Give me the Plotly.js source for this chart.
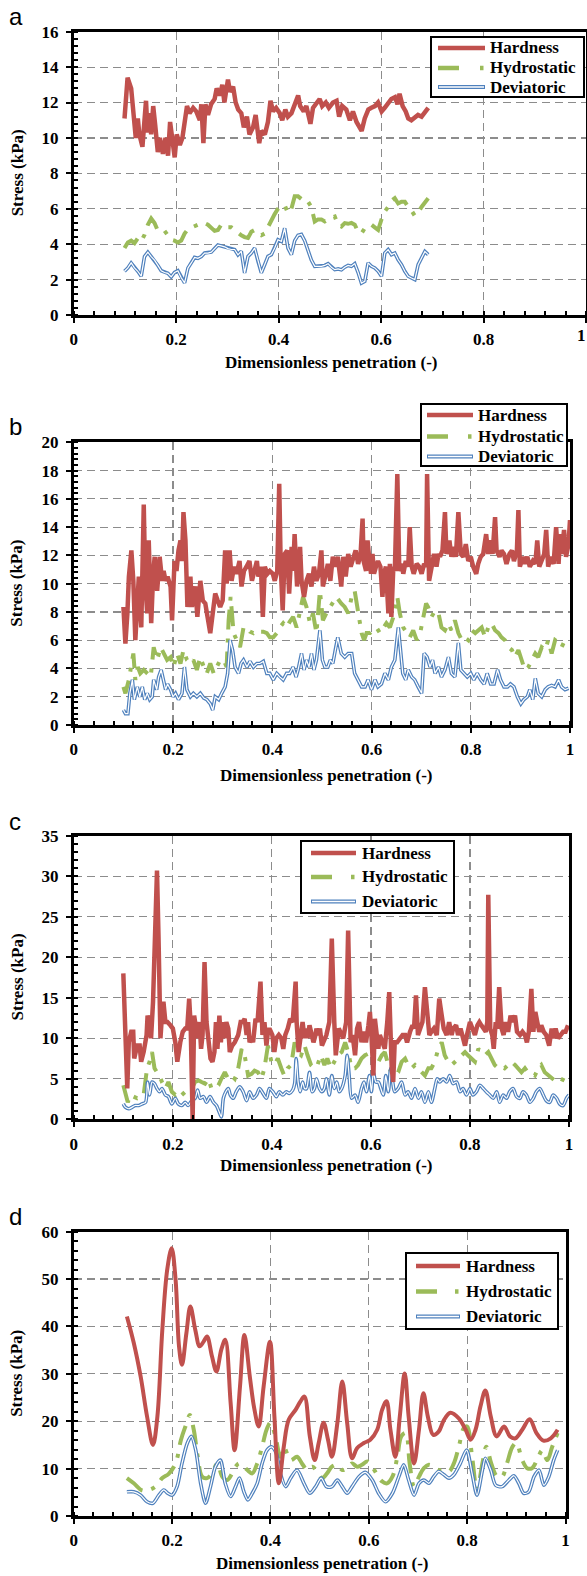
<!DOCTYPE html>
<html><head><meta charset="utf-8">
<script src="https://cdn.plot.ly/plotly-3.0.1.min.js"></script>
<style>html,body{margin:0;padding:0;background:#fff;}#chart{width:587px;height:1576px;}</style>
</head><body><div id="chart"></div>
<script>
// ---------------- DATA ----------------
const seriesNames = ['Hardness','Hydrostatic','Deviatoric'];
const panelLabels = ['a','b','c','d'];
const xTitle = 'Dimensionless penetration (-)';
const yTitle = 'Stress (kPa)';
const xTickVals = [0, 0.2, 0.4, 0.6, 0.8, 1];
const xTickText = ['0', '0.2', '0.4', '0.6', '0.8', '1'];

// Panel a
const xHardA = [0.099,0.105,0.112,0.115,0.121,0.125,0.128,0.134,0.138,0.141,0.144,0.148,0.151,0.155,0.159,0.164,0.168,0.174,0.179,0.184,0.188,0.192,0.197,0.201,0.207,0.212,0.216,0.221,0.226,0.233,0.239,0.246,0.249,0.253,0.257,0.262,0.268,0.275,0.279,0.285,0.290,0.294,0.301,0.305,0.311,0.316,0.321,0.327,0.332,0.338,0.343,0.350,0.355,0.362,0.366,0.373,0.379,0.384,0.389,0.395,0.402,0.407,0.413,0.418,0.425,0.431,0.438,0.442,0.449,0.454,0.462,0.467,0.474,0.480,0.485,0.492,0.498,0.506,0.513,0.518,0.524,0.532,0.539,0.545,0.552,0.557,0.562,0.568,0.575,0.581,0.588,0.594,0.601,0.607,0.614,0.620,0.627,0.632,0.636,0.642,0.648,0.653,0.659,0.666,0.672,0.679,0.685,0.692];
const hardA = [11.1,13.4,12.8,11.7,10.0,11.1,10.2,9.5,11.3,12.1,10.3,11.4,10.2,11.8,10.7,9.2,10.0,9.1,10.0,9.0,10.9,10.0,8.9,10.2,9.6,10.0,10.7,11.8,11.4,11.7,11.5,11.0,11.9,9.7,11.9,11.3,11.9,12.2,12.8,12.4,13.0,12.0,13.3,12.6,12.9,12.0,11.6,11.4,10.6,11.2,10.2,10.6,11.3,9.7,10.4,10.2,10.9,12.1,11.5,11.7,11.4,11.0,11.6,11.2,11.4,11.8,12.4,11.8,11.5,11.8,10.8,11.7,12.0,12.2,11.8,12.0,11.7,12.0,12.1,11.2,11.8,11.6,11.0,11.5,10.9,10.7,10.4,11.1,11.6,11.7,11.8,12.0,11.5,11.7,12.0,12.2,12.3,11.9,12.5,11.8,11.5,11.1,11.0,11.2,11.3,11.2,11.4,11.7];
const xA = [0.099,0.1055,0.112,0.1185,0.125,0.1316,0.1381,0.1446,0.1511,0.1576,0.1642,0.1707,0.1772,0.1837,0.1902,0.1967,0.2032,0.2098,0.2163,0.2228,0.2293,0.2358,0.2423,0.2489,0.2554,0.2619,0.2684,0.2749,0.2814,0.2879,0.2945,0.301,0.3075,0.314,0.3205,0.327,0.3335,0.3401,0.3466,0.3531,0.3596,0.3661,0.3726,0.3791,0.3857,0.3922,0.3987,0.4052,0.4117,0.4182,0.4248,0.4313,0.4378,0.4443,0.4508,0.4573,0.4638,0.4704,0.4769,0.4834,0.4899,0.4964,0.5029,0.5095,0.516,0.5225,0.529,0.5355,0.542,0.5485,0.5551,0.5616,0.5681,0.5746,0.5811,0.5876,0.5942,0.6007,0.6072,0.6137,0.6202,0.6267,0.6332,0.6398,0.6463,0.6528,0.6593,0.6658,0.6723,0.6789,0.6854,0.6919];
const hydroA = [3.78,4.1,4.2,4.06,4.34,4.16,4.53,5.1,5.45,5.2,4.75,4.75,4.75,4.5,4.25,4.2,4.1,4.2,4.6,4.85,4.95,5.05,5.1,5.1,5.19,5.1,4.95,4.75,4.8,5.1,5.1,4.95,4.95,4.8,4.6,4.5,4.4,4.35,4.7,4.8,4.6,4.5,4.6,5.0,5.3,5.7,6.0,6.2,6.2,5.75,6.0,6.7,6.7,6.55,6.6,6.4,6.1,5.28,5.4,5.4,5.28,5.4,5.5,5.56,5.1,5.0,5.19,5.15,5.2,5.1,4.7,4.6,4.9,4.95,5.1,4.95,4.8,5.4,5.85,6.1,6.45,6.6,6.3,6.4,6.4,6.1,5.9,5.6,5.8,6.1,6.31,6.59];
const devA = [2.47,2.66,2.94,2.66,2.47,2.19,3.3,3.55,3.3,3.1,2.8,2.5,2.4,2.35,2.15,2.4,2.5,2.1,1.81,2.65,2.94,3.25,3.2,3.3,3.5,3.5,3.55,3.75,3.95,3.9,3.85,3.75,3.7,3.7,3.4,3.6,2.38,3.31,3.5,3.78,3.03,2.38,2.84,3.31,3.41,3.78,4.25,4.16,4.9,3.78,3.41,4.2,4.5,4.55,4.2,3.65,3.1,2.75,2.75,2.75,2.8,2.9,2.7,2.56,2.6,2.55,2.7,2.8,2.75,2.9,2.4,1.8,1.9,2.94,2.75,2.66,2.47,2.19,3.5,3.69,3.41,3.5,3.12,2.84,2.47,2.19,2.09,2.0,2.84,3.22,3.59,3.41];

// Panel b
const xHardB = [0.100,0.104,0.108,0.111,0.116,0.120,0.124,0.128,0.131,0.136,0.141,0.144,0.148,0.151,0.156,0.160,0.163,0.168,0.173,0.178,0.181,0.185,0.189,0.195,0.198,0.203,0.207,0.211,0.215,0.218,0.221,0.225,0.229,0.235,0.238,0.245,0.249,0.255,0.260,0.265,0.270,0.275,0.280,0.285,0.290,0.295,0.300,0.305,0.308,0.314,0.318,0.323,0.328,0.334,0.338,0.343,0.348,0.354,0.359,0.363,0.369,0.372,0.377,0.381,0.385,0.390,0.395,0.401,0.405,0.410,0.414,0.417,0.421,0.425,0.430,0.434,0.439,0.442,0.445,0.450,0.456,0.459,0.464,0.469,0.474,0.479,0.484,0.489,0.494,0.499,0.502,0.508,0.512,0.517,0.522,0.528,0.532,0.539,0.543,0.548,0.553,0.558,0.563,0.568,0.573,0.578,0.582,0.584,0.589,0.592,0.595,0.599,0.602,0.605,0.609,0.613,0.618,0.622,0.625,0.629,0.634,0.637,0.640,0.644,0.647,0.652,0.656,0.661,0.664,0.669,0.674,0.677,0.681,0.685,0.691,0.696,0.701,0.706,0.710,0.712,0.716,0.721,0.726,0.731,0.735,0.738,0.743,0.748,0.751,0.757,0.761,0.765,0.770,0.775,0.780,0.785,0.790,0.795,0.800,0.805,0.811,0.815,0.820,0.825,0.831,0.835,0.840,0.844,0.849,0.852,0.858,0.862,0.867,0.872,0.878,0.883,0.887,0.893,0.896,0.899,0.905,0.909,0.914,0.919,0.925,0.930,0.934,0.938,0.943,0.948,0.952,0.956,0.961,0.967,0.972,0.977,0.980,0.983,0.988,0.992,0.997,1.000];
const hardB = [8.35,5.76,7.9,10.5,12.35,10.2,6.0,9.5,10.5,6.9,15.6,10.0,7.9,13.06,7.2,10.7,11.9,9.5,11.9,10.2,10.9,10.2,10.5,9.8,7.4,11.6,10.9,12.35,13.06,11.6,15.06,13.06,8.35,10.5,8.35,9.8,7.65,10.2,8.8,8.6,7.4,6.5,7.9,9.3,8.8,8.35,8.8,12.35,10.0,12.35,10.2,11.2,10.7,11.6,9.8,10.9,11.2,11.6,10.2,10.7,11.6,10.5,11.2,7.65,11.2,10.7,10.9,10.7,10.2,10.9,17.06,11.2,8.1,12.1,12.35,9.3,12.6,10.9,13.5,9.8,12.6,10.2,9.06,10.2,10.7,9.8,11.2,10.2,10.7,12.35,9.8,10.7,11.4,10.2,11.9,11.2,11.9,9.8,11.9,10.5,12.1,11.2,11.9,12.35,11.4,12.1,14.6,11.6,10.9,13.06,11.9,10.7,12.1,10.7,11.2,11.6,11.2,9.06,10.7,11.2,7.9,11.4,7.65,11.2,10.9,17.76,10.9,11.4,10.7,11.6,11.2,14.0,11.2,10.7,11.4,11.2,10.7,11.4,11.2,17.76,10.2,11.4,12.1,11.2,12.1,11.9,12.35,15.06,12.1,13.06,11.9,12.6,11.9,15.06,12.1,11.9,12.8,11.6,11.9,11.2,10.7,11.4,11.9,12.1,13.5,12.1,13.06,12.1,14.7,12.35,11.9,12.35,12.1,11.4,12.1,12.35,11.6,12.35,15.2,11.2,11.9,11.4,11.9,11.2,11.6,11.4,13.06,11.2,11.6,12.1,13.8,11.2,11.9,11.4,14.0,11.4,13.5,12.1,13.8,11.9,12.8,14.5];
const xHydroB = [0.100,0.104,0.111,0.116,0.120,0.124,0.129,0.134,0.141,0.148,0.155,0.161,0.168,0.175,0.181,0.188,0.195,0.201,0.208,0.215,0.221,0.228,0.235,0.241,0.248,0.255,0.262,0.268,0.275,0.282,0.288,0.295,0.302,0.308,0.312,0.316,0.322,0.328,0.335,0.342,0.349,0.355,0.362,0.369,0.375,0.382,0.389,0.395,0.402,0.409,0.415,0.422,0.429,0.435,0.442,0.449,0.456,0.462,0.469,0.476,0.482,0.489,0.496,0.502,0.509,0.516,0.522,0.529,0.539,0.546,0.553,0.560,0.566,0.573,0.580,0.585,0.590,0.597,0.603,0.610,0.617,0.624,0.630,0.637,0.644,0.652,0.657,0.664,0.671,0.677,0.684,0.691,0.698,0.704,0.710,0.714,0.721,0.728,0.735,0.741,0.748,0.755,0.761,0.768,0.775,0.782,0.788,0.795,0.802,0.809,0.815,0.822,0.829,0.835,0.842,0.849,0.856,0.862,0.869,0.876,0.883,0.889,0.896,0.903,0.909,0.916,0.923,0.930,0.936,0.943,0.950,0.956,0.963,0.970,0.977,0.983,0.990,0.997];
const hydroB = [2.7,2.24,3.2,4.1,5.06,3.2,4.1,3.65,3.9,3.65,3.4,5.5,4.6,5.5,5.06,4.6,4.8,4.1,5.06,4.35,5.3,4.6,4.35,4.6,3.9,4.8,4.1,3.65,4.35,3.65,4.1,4.6,4.6,4.1,7.4,9.06,6.5,6.0,5.5,6.9,6.9,6.6,6.5,6.7,6.6,6.6,6.5,6.2,6.2,6.5,6.9,7.2,6.9,7.3,7.65,6.9,8.1,9.06,8.35,7.2,7.9,6.5,9.5,7.4,7.9,8.35,8.6,9.06,8.6,8.35,7.9,9.06,9.5,7.8,6.5,6.0,6.5,6.5,6.7,6.9,6.5,6.9,7.2,6.9,7.65,9.06,7.9,6.9,6.5,6.2,6.7,6.0,6.5,7.65,8.6,8.35,7.65,8.1,7.9,6.9,6.7,7.2,6.7,7.4,6.5,6.0,6.2,6.0,6.7,6.5,6.7,6.9,6.2,6.9,7.2,6.7,6.5,6.2,6.0,5.5,5.3,4.8,5.3,4.6,3.9,4.1,4.6,5.06,4.8,5.5,5.3,6.0,5.06,6.0,5.8,5.5,6.0,5.8];
const xDevB = [0.100,0.104,0.109,0.113,0.118,0.122,0.128,0.133,0.138,0.143,0.148,0.153,0.158,0.161,0.167,0.171,0.176,0.180,0.185,0.189,0.195,0.200,0.205,0.211,0.218,0.223,0.228,0.235,0.241,0.248,0.255,0.262,0.268,0.275,0.280,0.285,0.292,0.298,0.305,0.310,0.315,0.320,0.325,0.332,0.337,0.342,0.349,0.355,0.362,0.369,0.375,0.382,0.389,0.395,0.402,0.409,0.415,0.422,0.429,0.435,0.442,0.448,0.452,0.459,0.464,0.469,0.474,0.479,0.484,0.489,0.496,0.501,0.506,0.512,0.517,0.522,0.528,0.532,0.539,0.546,0.553,0.560,0.566,0.573,0.580,0.587,0.593,0.600,0.607,0.613,0.620,0.627,0.634,0.640,0.647,0.654,0.657,0.663,0.669,0.674,0.681,0.687,0.694,0.701,0.706,0.712,0.718,0.723,0.728,0.735,0.741,0.748,0.755,0.761,0.768,0.775,0.780,0.786,0.793,0.800,0.806,0.813,0.820,0.827,0.833,0.840,0.847,0.854,0.860,0.867,0.874,0.880,0.887,0.894,0.901,0.907,0.914,0.919,0.925,0.930,0.936,0.943,0.950,0.956,0.963,0.970,0.977,0.983,0.990,0.997];
const devB = [1.06,0.8,0.8,2.24,3.2,1.8,2.7,2.0,2.7,1.8,2.24,1.8,2.0,3.2,2.5,3.4,3.9,3.2,2.5,2.9,2.5,2.0,2.24,1.8,2.24,4.1,2.5,2.0,2.24,2.0,2.24,1.9,1.8,1.5,1.06,2.0,1.8,2.24,2.7,3.65,6.0,5.3,4.1,3.65,4.35,4.6,4.1,4.5,4.1,4.35,4.35,4.5,3.65,3.65,3.2,3.65,3.4,3.2,3.65,3.65,4.1,3.4,3.9,5.06,3.9,4.6,4.1,5.06,3.9,4.6,6.7,4.6,4.1,4.1,4.6,4.35,5.5,6.2,5.06,4.8,5.06,5.06,3.65,3.2,2.7,2.7,3.2,2.5,3.2,2.7,2.9,3.65,3.2,4.1,4.6,6.9,5.8,3.65,3.2,3.9,3.4,3.2,2.7,2.24,5.06,4.8,4.1,4.6,3.65,4.1,3.4,3.9,4.8,3.65,3.4,5.8,3.9,3.65,3.4,3.65,3.2,3.65,3.2,2.9,3.65,2.9,2.9,3.9,3.2,2.7,2.7,2.9,2.7,2.0,1.5,1.8,2.0,2.5,1.8,3.3,2.24,2.0,2.5,2.7,2.8,2.7,3.2,2.7,2.5,2.6];

// Panel c
const xHardC = [0.100,0.104,0.108,0.111,0.116,0.120,0.122,0.128,0.133,0.136,0.141,0.147,0.149,0.153,0.156,0.160,0.165,0.168,0.171,0.175,0.178,0.181,0.185,0.189,0.195,0.200,0.205,0.209,0.215,0.220,0.225,0.229,0.233,0.236,0.240,0.243,0.247,0.250,0.254,0.257,0.260,0.264,0.268,0.272,0.276,0.280,0.284,0.287,0.290,0.294,0.297,0.300,0.304,0.308,0.312,0.315,0.320,0.325,0.332,0.337,0.341,0.345,0.349,0.352,0.355,0.359,0.362,0.367,0.371,0.377,0.381,0.385,0.389,0.392,0.395,0.401,0.405,0.409,0.414,0.419,0.423,0.427,0.432,0.437,0.442,0.448,0.450,0.454,0.459,0.462,0.466,0.469,0.472,0.476,0.479,0.484,0.488,0.490,0.494,0.497,0.501,0.506,0.510,0.516,0.521,0.526,0.529,0.535,0.544,0.550,0.554,0.559,0.563,0.568,0.572,0.576,0.581,0.586,0.590,0.595,0.598,0.601,0.605,0.608,0.611,0.615,0.618,0.624,0.628,0.633,0.637,0.642,0.645,0.648,0.653,0.659,0.664,0.669,0.673,0.679,0.684,0.687,0.691,0.695,0.699,0.704,0.709,0.714,0.718,0.722,0.727,0.733,0.738,0.743,0.747,0.753,0.758,0.763,0.766,0.772,0.776,0.781,0.785,0.790,0.794,0.800,0.805,0.810,0.815,0.819,0.823,0.828,0.832,0.835,0.837,0.841,0.845,0.848,0.852,0.855,0.859,0.864,0.868,0.872,0.877,0.882,0.886,0.891,0.895,0.901,0.906,0.911,0.915,0.919,0.924,0.928,0.932,0.936,0.940,0.944,0.949,0.954,0.960,0.965,0.969,0.973,0.978,0.983,0.988,0.993,0.998];
const hardC = [18.0,12.0,3.8,9.5,10.8,10.8,7.5,9.1,9.1,7.1,8.3,10.4,12.8,12.0,10.0,14.5,22.7,30.7,22.7,10.0,12.8,14.5,12.0,12.0,11.6,11.2,9.5,7.1,9.5,10.8,11.2,11.2,14.9,11.6,0.0,12.8,11.2,10.0,12.0,8.7,10.4,19.4,12.0,9.1,7.5,7.1,8.3,12.0,8.7,12.8,9.5,12.0,10.0,12.0,11.2,8.3,9.1,9.5,10.4,12.0,12.0,12.4,10.4,12.0,9.5,10.0,9.5,12.4,12.0,17.0,10.4,12.0,9.1,10.8,11.2,10.4,8.3,10.0,10.4,10.0,8.7,10.4,11.2,12.4,12.0,17.0,12.0,8.3,10.4,12.0,10.0,11.2,10.0,11.6,10.8,9.5,10.4,11.2,10.4,11.2,9.1,10.0,10.4,12.0,22.3,12.0,7.9,11.2,10.0,12.0,23.3,9.5,10.4,7.9,11.2,12.0,9.5,10.8,9.5,11.6,13.25,10.4,5.4,12.4,11.2,8.7,10.4,9.5,8.7,12.0,15.7,6.3,4.6,9.5,9.5,10.0,10.4,10.4,9.5,10.8,11.6,11.2,15.3,10.4,11.2,12.0,16.3,12.0,10.4,10.8,11.2,10.4,14.9,12.8,11.2,10.4,12.0,10.4,11.2,11.6,10.4,11.2,10.4,9.1,10.4,12.0,11.2,10.4,11.6,12.0,11.6,11.2,10.8,12.0,27.7,11.2,10.4,8.7,12.0,11.2,16.3,11.2,10.4,12.0,10.8,12.8,12.0,12.8,10.8,10.4,10.8,10.4,9.5,10.8,16.1,10.8,13.25,12.0,10.8,11.6,10.8,10.4,9.1,11.2,10.0,11.2,10.0,10.4,10.8,10.8,11.6];
const xHydroC = [0.100,0.104,0.109,0.114,0.121,0.128,0.134,0.141,0.148,0.153,0.158,0.163,0.168,0.173,0.178,0.185,0.191,0.198,0.205,0.211,0.218,0.225,0.231,0.238,0.245,0.252,0.258,0.265,0.272,0.278,0.285,0.292,0.298,0.305,0.312,0.318,0.325,0.332,0.339,0.345,0.352,0.359,0.365,0.372,0.379,0.385,0.392,0.399,0.405,0.412,0.419,0.425,0.432,0.439,0.446,0.452,0.459,0.466,0.472,0.479,0.486,0.492,0.499,0.506,0.512,0.519,0.526,0.533,0.541,0.548,0.554,0.561,0.568,0.574,0.581,0.588,0.595,0.601,0.608,0.615,0.622,0.628,0.635,0.642,0.648,0.655,0.662,0.669,0.675,0.682,0.689,0.696,0.702,0.709,0.716,0.722,0.729,0.736,0.743,0.749,0.756,0.763,0.770,0.776,0.783,0.790,0.796,0.803,0.810,0.817,0.823,0.830,0.837,0.843,0.850,0.857,0.864,0.870,0.877,0.884,0.891,0.897,0.904,0.911,0.917,0.924,0.931,0.938,0.944,0.951,0.958,0.965,0.971,0.978,0.985,0.991,0.998];
const hydroC = [4.2,3.2,2.1,3.0,2.8,2.6,2.8,3.0,6.3,7.1,8.3,6.3,5.8,5.4,4.6,3.8,4.6,3.4,3.0,3.4,3.0,3.4,3.4,3.8,4.6,4.8,4.6,4.4,5.0,3.8,3.8,4.2,5.0,5.8,5.0,5.4,5.0,6.3,8.7,7.9,5.4,5.6,6.0,5.8,5.0,6.3,9.1,7.1,6.7,7.5,6.3,5.4,6.3,6.7,9.5,8.3,7.9,9.1,7.9,6.7,6.3,6.7,7.9,6.7,7.5,6.3,7.1,7.9,8.3,9.5,8.3,6.3,6.3,6.7,7.5,7.9,8.1,8.7,7.9,7.1,7.9,8.3,6.7,5.6,5.4,5.8,7.1,7.5,6.7,6.3,6.7,6.3,5.8,5.4,6.3,6.3,7.1,8.7,9.5,7.9,7.1,6.7,7.1,7.5,7.9,8.3,7.9,7.5,7.1,8.7,8.3,7.9,8.3,7.5,6.7,6.3,6.5,6.3,6.7,7.1,6.7,6.3,5.8,6.3,5.8,5.6,5.4,6.3,6.7,5.8,5.4,5.0,4.8,4.6,4.6,5.4,6.0];
const xDevC = [0.100,0.104,0.111,0.118,0.124,0.131,0.138,0.145,0.149,0.153,0.158,0.163,0.168,0.173,0.178,0.185,0.191,0.198,0.205,0.211,0.218,0.225,0.231,0.238,0.245,0.250,0.255,0.262,0.268,0.275,0.282,0.288,0.295,0.298,0.302,0.307,0.312,0.316,0.322,0.328,0.335,0.342,0.349,0.355,0.362,0.369,0.375,0.382,0.389,0.395,0.402,0.409,0.415,0.422,0.429,0.435,0.442,0.446,0.449,0.453,0.457,0.462,0.466,0.470,0.476,0.481,0.486,0.490,0.496,0.501,0.506,0.510,0.516,0.521,0.526,0.531,0.536,0.541,0.548,0.552,0.556,0.561,0.568,0.574,0.581,0.586,0.591,0.597,0.601,0.605,0.610,0.615,0.620,0.625,0.630,0.635,0.640,0.644,0.648,0.655,0.662,0.669,0.675,0.682,0.689,0.696,0.702,0.709,0.716,0.722,0.729,0.734,0.739,0.746,0.753,0.759,0.766,0.773,0.780,0.786,0.793,0.800,0.806,0.813,0.820,0.827,0.833,0.840,0.847,0.854,0.860,0.867,0.874,0.880,0.887,0.894,0.901,0.907,0.914,0.921,0.928,0.934,0.941,0.948,0.954,0.961,0.968,0.975,0.981,0.988,0.995,1.000];
const devC = [1.9,1.5,1.3,1.5,1.7,1.7,1.9,2.1,4.6,3.0,4.6,4.4,3.8,3.4,3.8,3.0,2.8,1.9,2.6,1.9,1.7,2.1,1.7,2.3,2.6,3.6,2.6,2.8,2.1,2.8,2.1,1.7,0.7,0.3,2.6,3.4,3.8,3.0,2.6,3.4,4.0,3.4,2.3,3.4,2.6,3.0,3.8,3.2,2.6,3.8,3.4,2.8,3.4,3.0,3.4,3.2,3.6,4.4,7.5,4.6,3.4,4.6,3.8,3.8,5.8,3.4,3.8,5.0,3.8,3.4,3.8,5.0,3.0,5.4,3.8,4.6,3.4,3.8,5.4,7.9,5.4,2.6,3.0,2.1,3.8,4.6,3.4,5.4,3.4,5.8,4.6,4.6,3.8,3.0,5.4,3.4,6.3,4.6,3.4,3.8,4.6,3.0,3.4,2.6,3.8,2.6,3.4,2.1,3.4,2.1,3.8,5.0,4.6,5.0,4.6,5.4,4.4,4.6,3.4,3.8,3.0,3.8,3.0,3.4,4.2,3.8,3.4,3.0,2.6,3.4,2.1,3.0,2.6,3.4,3.8,2.8,2.6,3.4,3.0,2.1,2.6,3.4,3.8,3.0,2.3,2.1,3.0,2.6,1.9,1.7,2.6,3.0];

// Panel d
const xHardD = [0.108,0.122,0.136,0.149,0.161,0.170,0.180,0.190,0.199,0.207,0.214,0.220,0.229,0.237,0.247,0.256,0.264,0.271,0.281,0.290,0.300,0.308,0.319,0.327,0.338,0.347,0.358,0.367,0.376,0.386,0.399,0.408,0.417,0.427,0.437,0.451,0.461,0.469,0.480,0.490,0.498,0.508,0.517,0.525,0.536,0.546,0.556,0.566,0.576,0.590,0.603,0.617,0.627,0.636,0.644,0.654,0.663,0.673,0.681,0.692,0.702,0.711,0.720,0.731,0.742,0.753,0.766,0.783,0.797,0.807,0.817,0.827,0.837,0.848,0.860,0.875,0.887,0.898,0.912,0.927,0.941,0.955,0.970,0.984];
const hardD = [42.1,36.5,29.4,21.0,15.0,21.0,39.3,52.0,56.5,49.9,35.8,31.9,38.6,44.2,39.3,35.8,36.8,37.9,33.7,30.5,35.1,37.2,23.8,13.9,27.3,38.2,29.4,22.7,18.9,27.3,36.8,21.0,6.9,14.6,20.3,22.4,24.2,25.2,16.8,11.8,15.4,19.7,16.1,12.5,19.6,28.4,19.6,12.2,14.3,15.4,16.1,18.2,22.4,24.2,18.2,12.5,21.0,30.1,21.0,11.1,18.2,25.9,21.0,17.1,17.8,20.3,21.8,20.6,18.2,16.1,18.2,23.1,26.5,21.0,16.8,18.9,16.8,16.4,18.2,20.4,17.5,15.9,16.4,18.2];
const xHydroD = [0.108,0.122,0.139,0.153,0.166,0.180,0.193,0.207,0.218,0.227,0.236,0.244,0.252,0.261,0.271,0.281,0.292,0.302,0.312,0.322,0.329,0.336,0.342,0.353,0.363,0.373,0.383,0.392,0.400,0.410,0.420,0.427,0.441,0.454,0.464,0.475,0.485,0.495,0.505,0.515,0.525,0.536,0.546,0.556,0.566,0.576,0.586,0.597,0.607,0.617,0.627,0.637,0.648,0.658,0.666,0.675,0.683,0.692,0.702,0.712,0.722,0.732,0.742,0.753,0.763,0.773,0.783,0.793,0.800,0.810,0.820,0.831,0.839,0.849,0.861,0.871,0.881,0.892,0.900,0.912,0.922,0.932,0.942,0.953,0.963,0.973,0.984];
const hydroD = [8.0,6.9,5.4,5.5,6.2,8.0,8.9,11.1,16.1,18.9,21.3,18.2,12.5,8.3,8.0,9.0,11.1,8.3,7.6,9.0,10.4,11.1,10.8,9.7,9.0,11.1,14.6,18.2,19.7,16.8,12.5,14.6,11.8,12.5,11.1,9.7,10.4,9.4,8.0,9.0,10.4,10.8,9.7,10.1,11.1,10.4,10.8,11.5,10.4,8.7,7.3,6.9,8.3,12.5,16.8,17.5,11.1,6.2,8.3,10.1,10.8,10.4,9.7,9.7,9.4,11.1,14.6,18.5,18.9,12.5,5.5,11.1,14.6,11.1,8.3,8.3,11.1,14.6,15.4,11.8,10.1,10.1,11.8,13.9,11.8,14.6,17.5];
const xDevD = [0.108,0.122,0.136,0.149,0.161,0.173,0.183,0.191,0.200,0.210,0.220,0.231,0.239,0.248,0.258,0.268,0.278,0.288,0.298,0.308,0.319,0.329,0.337,0.346,0.354,0.363,0.373,0.383,0.393,0.402,0.412,0.420,0.431,0.441,0.454,0.468,0.480,0.492,0.503,0.514,0.525,0.536,0.546,0.556,0.566,0.580,0.593,0.607,0.620,0.634,0.648,0.661,0.671,0.681,0.692,0.702,0.712,0.722,0.732,0.742,0.753,0.763,0.773,0.786,0.799,0.810,0.820,0.831,0.837,0.848,0.858,0.871,0.885,0.895,0.905,0.915,0.925,0.936,0.946,0.956,0.966,0.976,0.984];
const devD = [5.1,5.1,4.4,3.0,2.7,4.4,5.5,4.8,4.4,6.2,11.1,15.4,16.8,13.9,6.9,2.7,6.2,10.4,11.8,6.9,4.1,6.2,8.0,5.1,3.4,4.8,6.9,11.1,13.9,14.6,13.2,9.0,6.2,8.0,9.7,6.9,4.8,6.2,8.0,6.2,6.2,7.6,6.2,4.8,6.2,8.3,9.2,7.6,4.8,3.0,4.8,8.3,10.8,7.6,4.4,6.9,7.6,6.9,8.3,9.4,8.7,8.0,8.7,11.1,13.9,9.0,4.4,9.7,12.2,9.7,6.5,6.2,7.6,8.5,6.9,4.8,5.1,8.3,9.7,6.5,8.3,11.8,13.9];

// Axis ranges / ticks per panel
const yMax = [16, 20, 35, 60];
const yStep = [2, 2, 5, 10];

// ---------------- LAYOUT (pixel geometry) ----------------
const W = 587, H = 1576;
const PX = x => x / W;
const PY = y => 1 - y / H;
const RED = '#C0504D', GREEN = '#9BBB59', BLUE = '#4F81BD';
const SERIF = '"Liberation Serif","Times New Roman",Times,serif';
const SANS = '"Liberation Sans",Arial,Helvetica,sans-serif';
const HYDRO_DASH = '20px,9px,4px,9px';

const geom = [
  {x0:73.8, x1:586,   y0:31.7,  y1:315,    lbl:[8,16.5],  xt:[331,363],  box:[431,37,584,97],    rows:[48,68,87],       s:[438,485], tx:488},
  {x0:73.8, x1:570,   y0:442.3, y1:725,    lbl:[8,426],   xt:[326,775],  box:[421,404,567,466],  rows:[415,436.5,456.5], s:[427,473], tx:476},
  {x0:73.8, x1:569,   y0:835.7, y1:1119.3, lbl:[8,821],   xt:[326,1165], box:[301,841,454,913],  rows:[853,877,901.5],   s:[311,356], tx:360},
  {x0:73.8, x1:565.5, y0:1231.7,y1:1516,   lbl:[8,1216],  xt:[322,1563], box:[406,1253,558,1329],rows:[1266,1291.5,1316.5], s:[416,460], tx:464}
];

const data = {
  hard:  [[xHardA,hardA],[xHardB,hardB],[xHardC,hardC],[xHardD,hardD]],
  hydro: [[xA,hydroA],[xHydroB,hydroB],[xHydroC,hydroC],[xHydroD,hydroD]],
  dev:   [[xA,devA],[xDevB,devB],[xDevC,devC],[xDevD,devD]]
};

const tickFont = {family:SERIF, size:17, color:'#000', weight:'bold'};
const traces = [];
const layout = {
  width:W, height:H, margin:{l:0,r:0,t:0,b:0}, showlegend:false,
  paper_bgcolor:'#fff', plot_bgcolor:'#fff', shapes:[], annotations:[]
};

geom.forEach((g, i) => {
  const n = i === 0 ? '' : String(i + 1);
  const xa = 'x' + n, ya = 'y' + n;
  const smooth = (i === 3) ? 'spline' : 'linear';
  const devShape = (i >= 2) ? 'spline' : 'linear';
  traces.push({x:data.hydro[i][0], y:data.hydro[i][1], xaxis:xa, yaxis:ya, mode:'lines',
    line:{color:GREEN, width:4, dash:HYDRO_DASH, shape:smooth}, hoverinfo:'skip'});
  traces.push({x:data.dev[i][0], y:data.dev[i][1], xaxis:xa, yaxis:ya, mode:'lines',
    line:{color:BLUE, width:3.6, shape:devShape, smoothing:0.8}, hoverinfo:'skip'});
  traces.push({x:data.dev[i][0], y:data.dev[i][1], xaxis:xa, yaxis:ya, mode:'lines',
    line:{color:'#fff', width:1.2, shape:devShape, smoothing:0.8}, hoverinfo:'skip'});
  traces.push({x:data.hard[i][0], y:data.hard[i][1], xaxis:xa, yaxis:ya, mode:'lines',
    line:{color:RED, width:(i === 3 ? 4 : 4.5), shape:smooth}, hoverinfo:'skip'});

  // Panel a: its "1" label sits at the page edge; draw it as a right-anchored annotation instead
  const tText = (i === 0) ? xTickText.map((t, k) => k === xTickText.length - 1 ? '' : t) : xTickText;
  layout['xaxis' + n] = {
    domain:[PX(g.x0), PX(g.x1)], anchor:ya, range:[0,1], tickmode:'array', tickvals:xTickVals, ticktext:tText,
    ticks:'outside', ticklen:5, tickwidth:2, tickcolor:'#000',
    showline:true, linecolor:'#000', linewidth:3, mirror:true,
    showgrid:true, gridcolor:'#8c8c8c', gridwidth:1.2, griddash:'8px,5px', zeroline:false,
    tickfont:tickFont, ticklabelstandoff:2,
    minor:{ticks:'inside', tick0:0, dtick:0.04, ticklen:4, tickwidth:2, tickcolor:'#000', showgrid:false},
    fixedrange:true
  };
  layout['yaxis' + n] = {
    domain:[PY(g.y1), PY(g.y0)], anchor:xa, range:[0, yMax[i]], tickmode:'linear', tick0:0, dtick:yStep[i],
    ticks:'outside', ticklen:5, tickwidth:2, tickcolor:'#000',
    showline:true, linecolor:'#000', linewidth:3, mirror:true,
    showgrid:true, gridcolor:'#8c8c8c', gridwidth:1.2, griddash:'8px,5px', zeroline:false,
    tickfont:tickFont, ticklabelstandoff:4,
    minor:{ticks:'inside', tick0:0, dtick:yStep[i]/5, ticklen:4, tickwidth:2, tickcolor:'#000', showgrid:false},
    fixedrange:true
  };
  if (i === 0) {
    layout.annotations.push({xref:'paper', yref:'paper', x:1, y:PY(336), xanchor:'right', yanchor:'middle',
      text:'<b>' + xTickText[xTickText.length - 1] + '</b>', showarrow:false, borderpad:0,
      font:{family:SERIF, size:17, color:'#000'}});
  }

  layout.annotations.push({xref:'paper', yref:'paper', x:PX(g.lbl[0]), y:PY(g.lbl[1]), xanchor:'left', yanchor:'middle',
    text:panelLabels[i], showarrow:false, borderpad:0, font:{family:SANS, size:24, color:'#000'}});
  layout.annotations.push({xref:'paper', yref:'paper', x:PX(g.xt[0]), y:PY(g.xt[1]), xanchor:'center', yanchor:'middle',
    text:'<b>' + xTitle + '</b>', showarrow:false, font:{family:SERIF, size:17, color:'#000'}});
  layout.annotations.push({xref:'paper', yref:'paper', x:PX(17), y:PY((g.y0 + g.y1) / 2), xanchor:'center', yanchor:'middle',
    text:'<b>' + yTitle + '</b>', textangle:-90, showarrow:false, font:{family:SERIF, size:17, color:'#000'}});

  const b = g.box;
  layout.shapes.push({type:'rect', xref:'paper', yref:'paper', x0:PX(b[0]), x1:PX(b[2]), y0:PY(b[3]), y1:PY(b[1]),
    line:{color:'#000', width:2}, fillcolor:'#fff', layer:'above'});
  const s0 = g.s[0], s1 = g.s[1];
  layout.shapes.push({type:'line', xref:'paper', yref:'paper', x0:PX(s0), x1:PX(s1), y0:PY(g.rows[0]), y1:PY(g.rows[0]),
    line:{color:RED, width:4.5}, layer:'above'});
  layout.shapes.push({type:'line', xref:'paper', yref:'paper', x0:PX(s0), x1:PX(s0 + 21), y0:PY(g.rows[1]), y1:PY(g.rows[1]),
    line:{color:GREEN, width:4.5}, layer:'above'});
  layout.shapes.push({type:'line', xref:'paper', yref:'paper', x0:PX(s1 - 5), x1:PX(s1 - 1.5), y0:PY(g.rows[1]), y1:PY(g.rows[1]),
    line:{color:GREEN, width:4.5}, layer:'above'});
  layout.shapes.push({type:'line', xref:'paper', yref:'paper', x0:PX(s0), x1:PX(s1), y0:PY(g.rows[2]), y1:PY(g.rows[2]),
    line:{color:BLUE, width:4}, layer:'above'});
  layout.shapes.push({type:'line', xref:'paper', yref:'paper', x0:PX(s0 + 1), x1:PX(s1 - 1), y0:PY(g.rows[2]), y1:PY(g.rows[2]),
    line:{color:'#fff', width:1.4}, layer:'above'});
  seriesNames.forEach((name, k) => {
    layout.annotations.push({xref:'paper', yref:'paper', x:PX(g.tx), y:PY(g.rows[k]), xanchor:'left', yanchor:'middle',
      text:'<b>' + name + '</b>', showarrow:false, font:{family:SERIF, size:17, color:'#000'}});
  });
});

Plotly.newPlot('chart', traces, layout, {staticPlot:true, displayModeBar:false});
</script>
</body></html>
